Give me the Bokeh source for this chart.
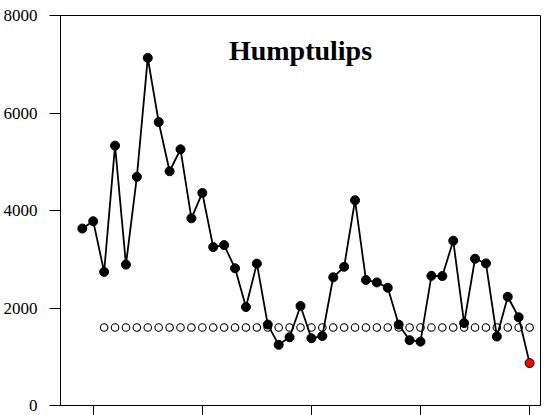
from bokeh.plotting import figure
from bokeh.models import Range1d, Label, FixedTicker
from bokeh.embed import file_html
from bokeh.resources import INLINE

years = list(range(1979, 2021))
escapement = [3630, 3780, 2740, 5330, 2890, 4690, 7130, 5815, 4805, 5255,
              3840, 4360, 3250, 3290, 2815, 2020, 2910, 1660, 1245, 1400,
              2040, 1380, 1425, 2630, 2845, 4210, 2575, 2525, 2415, 1660,
              1340, 1310, 2660, 2655, 3380, 1690, 3010, 2915, 1415, 2230,
              1810, 870]
goal_years = years[2:]
goal = [1600] * len(goal_years)
y_ticks = [0, 2000, 4000, 6000, 8000]
x_ticks = [1980, 1990, 2000, 2010, 2020]
title_text = "Humptulips"

p = figure(width=547, height=415, output_backend="svg", toolbar_location=None,
           x_range=Range1d(1977, 2021), y_range=Range1d(0, 8000),
           min_border_left=59, min_border_top=15, min_border_right=7, min_border_bottom=10)
p.background_fill_color = "white"
p.border_fill_color = "white"
p.grid.visible = False
p.outline_line_color = "black"
p.outline_line_width = 1

ya = p.yaxis[0]
ya.ticker = FixedTicker(ticks=y_ticks)
ya.minor_tick_line_color = None
ya.major_tick_in = 0
ya.major_tick_out = 11
ya.major_label_standoff = 12
ya.major_label_text_font = "Liberation Serif"
ya.major_label_text_font_size = "17px"
ya.major_label_text_color = "black"
ya.axis_line_color = "black"
ya.major_tick_line_color = "black"

xa = p.xaxis[0]
xa.ticker = FixedTicker(ticks=x_ticks)
xa.minor_tick_line_color = None
xa.major_tick_in = 0
xa.major_tick_out = 10
xa.major_label_standoff = 0
xa.major_label_overrides = {t: "" for t in x_ticks}
xa.axis_line_color = "black"
xa.major_tick_line_color = "black"

p.scatter(goal_years, goal, size=7.5, fill_color="white", line_color="black", line_width=1.1)
p.line(years, escapement, line_color="black", line_width=1.8)
p.scatter(years[:-1], escapement[:-1], size=9, fill_color="black", line_color="black")
p.scatter(years[-1:], escapement[-1:], size=9, fill_color="red", line_color="black", line_width=1)

p.add_layout(Label(x=1999, y=7280, text=title_text, text_align="center",
                   text_baseline="alphabetic", text_font="Liberation Serif",
                   text_font_style="bold", text_font_size="28px", text_color="black"))

open("out.html", "w").write(file_html(p, INLINE))
